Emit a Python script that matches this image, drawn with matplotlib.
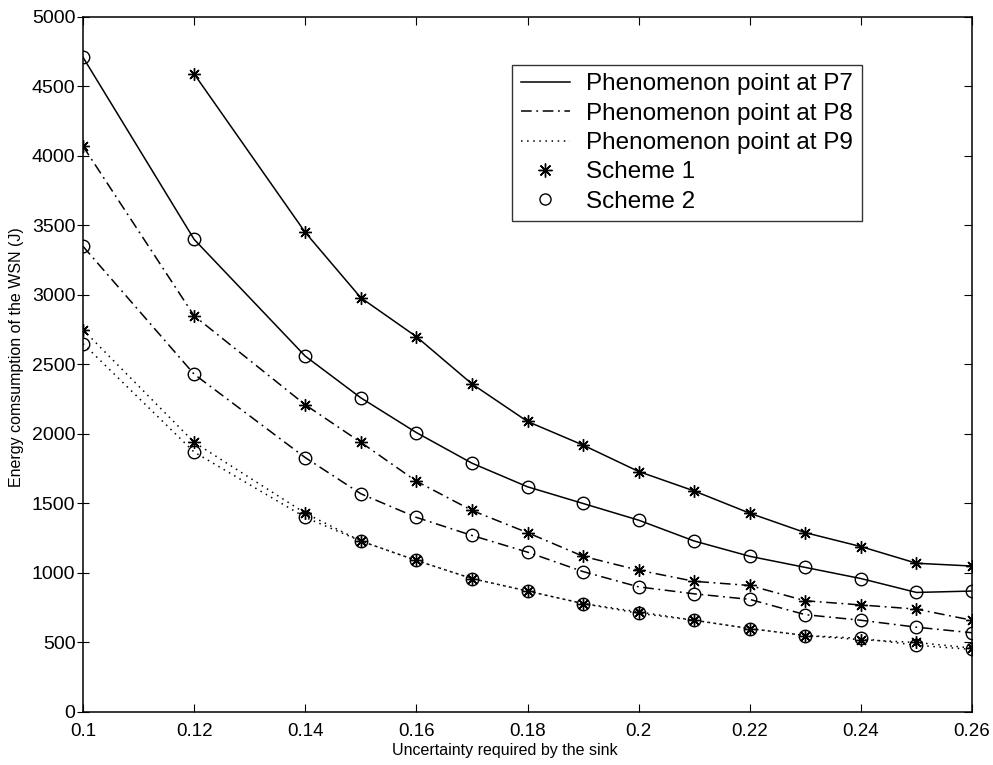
import matplotlib.pyplot as plt
from matplotlib.lines import Line2D
import numpy as np

plt.rcParams['font.family'] = ['Liberation Sans', 'DejaVu Sans']

x = [0.10, 0.12, 0.14, 0.15, 0.16, 0.17, 0.18, 0.19, 0.20, 0.21, 0.22, 0.23, 0.24, 0.25, 0.26]

# scheme 1 (asterisk) / scheme 2 (circle), one pair per phenomenon point
p7_s1 = [np.nan, 4590, 3450, 2980, 2700, 2360, 2090, 1920, 1730, 1590, 1430, 1290, 1190, 1070, 1050]
p7_s2 = [4710, 3400, 2560, 2260, 2010, 1790, 1620, 1500, 1380, 1230, 1120, 1040, 960, 860, 870]
p8_s1 = [4070, 2850, 2210, 1940, 1660, 1450, 1290, 1120, 1020, 940, 910, 800, 770, 740, 660]
p8_s2 = [3350, 2430, 1830, 1570, 1400, 1270, 1150, 1010, 900, 850, 810, 700, 660, 610, 570]
p9_s1 = [2750, 1940, 1430, 1230, 1090, 960, 870, 780, 720, 660, 600, 550, 520, 500, 460]
p9_s2 = [2650, 1870, 1400, 1230, 1090, 960, 870, 780, 710, 660, 600, 550, 530, 480, 450]

xticks = [0.1, 0.12, 0.14, 0.16, 0.18, 0.2, 0.22, 0.24, 0.26]
xticklabels = ['0.1', '0.12', '0.14', '0.16', '0.18', '0.2', '0.22', '0.24', '0.26']
yticks = list(range(0, 5001, 500))

star = (8, 2, 0)
dashdot = (0, (7, 3, 1.2, 3))
dotted = (0, (1, 3))

fig = plt.figure(figsize=(9.93, 7.65), dpi=100)
ax = fig.add_axes([0.0836, 0.0693, 0.8953, 0.9085])

styles = [('-', p7_s1, p7_s2), (dashdot, p8_s1, p8_s2), (dotted, p9_s1, p9_s2)]
for ls, s1, s2 in styles:
    ax.plot(x, s1, color='black', linestyle=ls, linewidth=1.1,
            marker=star, markersize=9, markeredgewidth=1.0, markerfacecolor='none')
    ax.plot(x, s2, color='black', linestyle=ls, linewidth=1.1,
            marker='o', markersize=9, markeredgewidth=1.0, markerfacecolor='none')

ax.set_xlim(0.1, 0.26)
ax.set_ylim(0, 5000)
ax.set_xticks(xticks)
ax.set_xticklabels(xticklabels)
ax.set_yticks(yticks)
ax.tick_params(axis='x', direction='in', length=6, labelsize=13.5, top=True, pad=8)
ax.tick_params(axis='y', direction='inout', length=9, right=True, labelsize=14, pad=1)
# right-hand ticks point inwards only
for t in ax.yaxis.get_major_ticks():
    t.tick2line.set_marker(0)
    t.tick2line.set_markersize(6)
for sp in ax.spines.values():
    sp.set_linewidth(1.1)

ax.set_xlabel('Uncertainty required by the sink', fontsize=11.5)
ax.xaxis.set_label_coords(0.475, -0.045)
ax.set_ylabel('Energy comsumption of the WSN (J)', fontsize=11.5)
ax.yaxis.set_label_coords(-0.066, 0.51)

handles = [
    Line2D([], [], color='black', linestyle='-', linewidth=1.1),
    Line2D([], [], color='black', linestyle=dashdot, linewidth=1.1),
    Line2D([], [], color='black', linestyle=dotted, linewidth=1.1),
    Line2D([], [], color='black', linestyle='none', marker=star, markersize=10),
    Line2D([], [], color='black', linestyle='none', marker='o', markersize=8,
           markerfacecolor='none'),
]
labels = ['Phenomenon point at P7', 'Phenomenon point at P8', 'Phenomenon point at P9',
          'Scheme 1', 'Scheme 2']
leg = ax.legend(handles, labels, loc='upper left', bbox_to_anchor=(0.4826, 0.931),
                borderaxespad=0, fontsize=17.5, frameon=True, fancybox=False,
                edgecolor='black', handlelength=2.05, handletextpad=0.65,
                borderpad=0.35, labelspacing=0.3)
leg.get_frame().set_linewidth(1.0)

fig.savefig('out.png', dpi=100)
